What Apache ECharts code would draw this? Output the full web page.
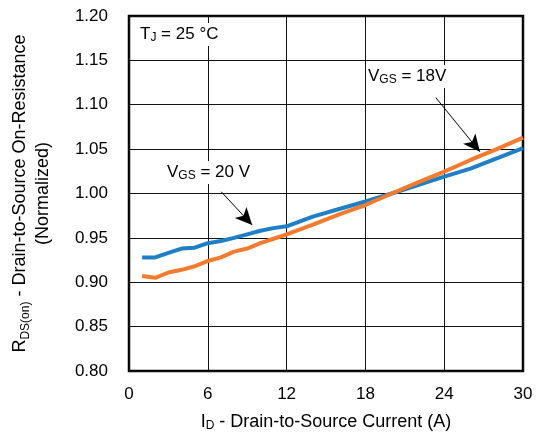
<!DOCTYPE html>
<html><head><meta charset="utf-8">
<script src="https://cdn.jsdelivr.net/npm/echarts@6/dist/echarts.min.js"></script>
<style>html,body{margin:0;padding:0;background:#fff}#c{width:536px;height:436px}</style>
</head><body><div id="c"></div>
<script>
const currentA = [1,2,3,4,5,6,7,8,9,10,11,12,14,16,18,20,22,24,26,28,30];
const vgs20 = [0.928,0.928,0.933,0.938,0.939,0.944,0.9465,0.950,0.954,0.958,0.961,0.963,0.974,0.9825,0.991,1.000,1.0096,1.019,1.028,1.0396,1.051];
const vgs18 = [0.907,0.905,0.911,0.914,0.918,0.924,0.928,0.9345,0.938,0.944,0.949,0.954,0.965,0.9765,0.987,1.000,1.0126,1.0246,1.0378,1.050,1.063];
const xTicks = [0,6,12,18,24,30];
const yTicks = [0.80,0.85,0.90,0.95,1.00,1.05,1.10,1.15,1.20];
const arrow20 = [[7.02,1.002],[9.38,0.9645]];
const arrow18 = [[23.36,1.108],[26.72,1.047]];

const font = 'Liberation Sans, Arial, sans-serif';
const chart = echarts.init(document.getElementById('c'), null, {renderer:'canvas'});
const pairs = (xs, ys) => xs.map((x,i)=>[x,ys[i]]);
const sub = {fontSize:12, fontFamily:font, color:'#000', verticalAlign:'bottom', padding:[7,0,0,0]};
const normal = {fontSize:17, fontFamily:font, color:'#000'};
const subT = Object.assign({}, sub, {fontSize:12});
const normT = {fontSize:18, fontFamily:font, color:'#000'};

chart.setOption({
  animation:false,
  grid:{left:129,right:13,top:16,bottom:65,show:true,borderColor:'#000',borderWidth:2.5,backgroundColor:'#fff',outerBoundsMode:'none',containLabel:false},
  xAxis:{type:'value',min:xTicks[0],max:xTicks[xTicks.length-1],interval:6,
    axisLine:{show:false},axisTick:{show:false},
    axisLabel:{color:'#000',fontSize:17,fontFamily:font,margin:15},
    splitLine:{lineStyle:{color:'#111',width:1}},
    name:'{n|I}{s|D}{n| - Drain-to-Source Current (A)}',nameLocation:'middle',nameGap:42,
    nameTextStyle:{rich:{n:normT,s:subT}}},
  yAxis:{type:'value',min:yTicks[0],max:yTicks[yTicks.length-1],interval:0.05,
    axisLine:{show:false},axisTick:{show:false},
    axisLabel:{color:'#000',fontSize:17,fontFamily:font,margin:21,formatter:v=>v.toFixed(2)},
    splitLine:{lineStyle:{color:'#111',width:1}},
    name:'{n|R}{s|DS(on)}{n| - Drain-to-Source On-Resistance}\n{n|(Normalized)}',nameLocation:'middle',nameGap:74,
    nameTextStyle:{lineHeight:23,rich:{n:Object.assign({lineHeight:23},normT),s:Object.assign({lineHeight:23},subT)}}},
  series:[
    {name:'VGS = 20 V',type:'line',data:pairs(currentA,vgs20),showSymbol:false,smooth:false,
      lineStyle:{color:'#1f7fc6',width:4},z:3,
      markLine:{silent:true,symbol:['none','arrow'],symbolSize:[12,17],
        lineStyle:{color:'#000',width:1,type:'solid'},label:{show:false},
        data:[[{coord:arrow20[0]},{coord:arrow20[1]}]]}},
    {name:'VGS = 18V',type:'line',data:pairs(currentA,vgs18),showSymbol:false,smooth:false,
      lineStyle:{color:'#f47b2d',width:4},z:4,
      markLine:{silent:true,symbol:['none','arrow'],symbolSize:[12,17],
        lineStyle:{color:'#000',width:1,type:'solid'},label:{show:false},
        data:[[{coord:arrow18[0]},{coord:arrow18[1]}]]}}
  ],
  graphic:[
    {type:'text',left:138,top:23,z:10,style:{text:'{n|T}{s|J}{n| = 25 °C}',backgroundColor:'#fff',padding:[2,2,2,2],
      rich:{n:normal,s:sub}}},
    {type:'text',left:165,top:161,z:10,style:{text:'{n|V}{s|GS}{n| = 20 V}',backgroundColor:'#fff',padding:[2,2,2,2],
      rich:{n:normal,s:sub}}},
    {type:'text',left:366,top:65,z:10,style:{text:'{n|V}{s|GS}{n| = 18V}',backgroundColor:'#fff',padding:[2,2,2,2],
      rich:{n:normal,s:sub}}}
  ]
});
</script></body></html>
